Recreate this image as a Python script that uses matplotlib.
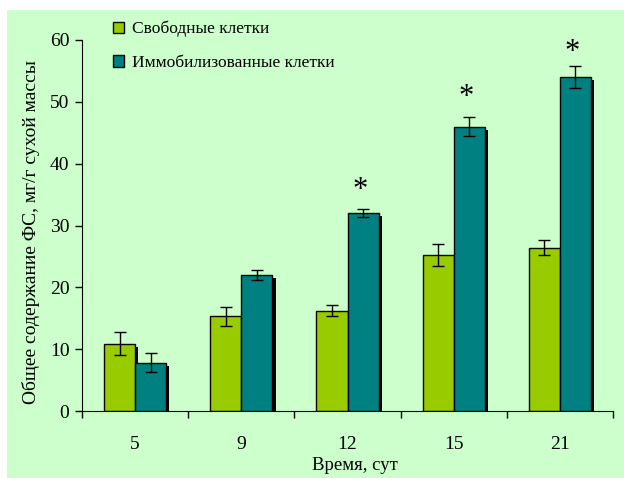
import numpy as np
import matplotlib
matplotlib.use("Agg")
import matplotlib.pyplot as plt
import matplotlib.patheffects as pe
from matplotlib.patches import Rectangle

plt.rcParams['font.family'] = ['Liberation Serif', 'DejaVu Serif']

days = ["5", "9", "12", "15", "21"]
free_vals = [10.9, 15.3, 16.2, 25.2, 26.4]
free_err = [1.8, 1.5, 0.9, 1.8, 1.2]
immob_vals = [7.8, 22.0, 32.0, 46.0, 54.0]
immob_err = [1.5, 0.8, 0.6, 1.6, 1.8]
# height of the significance marks (None = no mark)
star_y = [None, None, 35.6, 50.7, 58.0]

green = "#99CC00"
teal = "#008080"
bg = "#CCFFCC"

fig = plt.figure(figsize=(6.24, 4.78), dpi=100)
fig.patches.append(Rectangle((7 / 624, 0), 1, 1 - 10 / 478, transform=fig.transFigure,
                             facecolor=bg, edgecolor="none", zorder=-10))

ax = fig.add_axes([82 / 624, 1 - 411 / 478, 531 / 624, 371 / 478])
ax.set_facecolor("none")

x = np.arange(len(days))
w = 0.292

b1 = ax.bar(x - w / 2, free_vals, w, color=green, edgecolor="black", linewidth=1,
            label="Свободные клетки", zorder=2)
b2 = ax.bar(x + w / 2, immob_vals, w, color=teal, edgecolor="black", linewidth=1,
            label="Иммобилизованные клетки", zorder=3)

ax.errorbar(x - w / 2, free_vals, yerr=free_err, fmt="none", ecolor="black",
            elinewidth=1, capsize=4, capthick=1, zorder=4)
ax.errorbar(x + w / 2, immob_vals, yerr=immob_err, fmt="none", ecolor="black",
            elinewidth=1, capsize=4, capthick=1, zorder=4)

for i in range(len(days)):
    if star_y[i] is not None:
        ax.text(x[i] + w / 2 - 0.03, star_y[i], "*", ha="center", va="center", fontsize=22)

ax.set_xlim(-0.5, len(days) - 0.5)
ax.set_ylim(0, 60)
ax.set_yticks(np.arange(0, 61, 10))
ax.set_xticks(np.arange(len(days) + 1) - 0.5)
ax.set_xticklabels([])
ax.set_xticks(x, minor=True)
ax.set_xticklabels(days, minor=True)
ax.tick_params(axis="x", which="major", direction="out", length=5, width=1)
ax.tick_params(axis="x", which="minor", length=0, pad=18, labelsize=14)
ax.tick_params(axis="y", direction="out", length=5, width=1, labelsize=14, pad=4)

for s in ["top", "right"]:
    ax.spines[s].set_visible(False)

ax.set_xlabel("Время, сут", fontsize=13.5)
ax.xaxis.set_label_coords(0.514, -0.125)
ax.set_ylabel("Общее содержание ФС, мг/г сухой массы", fontsize=14)
ax.yaxis.set_label_coords(-0.080, 0.481)

leg = ax.legend(loc="upper left", bbox_to_anchor=(0.045, 1.07), frameon=False, fontsize=12.5,
                handlelength=0.65, handleheight=0.65, handletextpad=0.45, labelspacing=1.0,
                borderaxespad=0)

# drop shadow on the bars only (added after the legend so its keys stay flat)
shadow = [pe.SimplePatchShadow(offset=(2.3, -2.3), shadow_rgbFace="black", alpha=1.0), pe.Normal()]
for r in list(b1) + list(b2):
    r.set_path_effects(shadow)

fig.savefig("out.png", dpi=100)
